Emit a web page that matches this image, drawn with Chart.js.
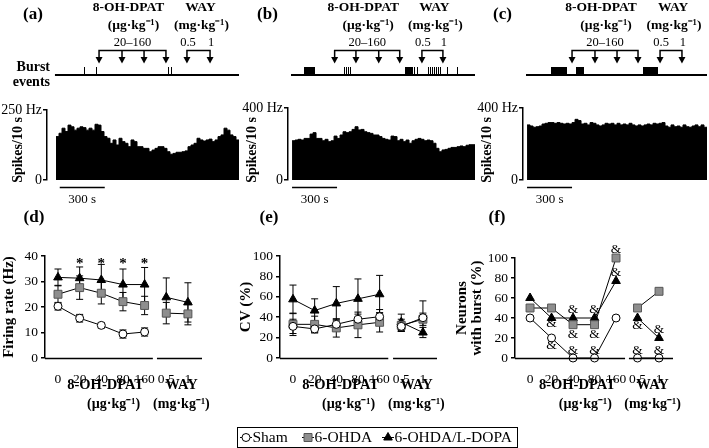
<!DOCTYPE html>
<html>
<head>
<meta charset="utf-8">
<script src="https://cdn.jsdelivr.net/npm/chart.js@4.4.1/dist/chart.umd.min.js"></script>
<style>
  body { margin: 0; background: #fff; }
  #wrap { position: relative; width: 709px; height: 448px; overflow: hidden; background: #fff; }
  canvas { position: absolute; }
</style>
</head>
<body>
<div id="wrap">
  <canvas id="histA" width="240" height="212" style="left:0;top:0"></canvas>
  <canvas id="histB" width="246" height="212" style="left:232px;top:0"></canvas>
  <canvas id="histC" width="243" height="212" style="left:466px;top:0"></canvas>
  <canvas id="rate" width="232" height="215" style="left:0;top:205px"></canvas>
  <canvas id="cv" width="290" height="243" style="left:232px;top:205px"></canvas>
  <canvas id="burst" width="257" height="215" style="left:452px;top:205px"></canvas>
</div>
<script>
const FONT = "'Liberation Serif', 'Times New Roman', serif";
Chart.defaults.font.family = FONT;
Chart.defaults.color = '#000';

// ---- top row: spike counts per bin (bin width in s)
const binSec = 20;
const histA = [155, 167, 185, 173, 196, 190, 178, 185, 190, 187, 178, 185, 178, 199, 196, 173, 155, 149, 131, 143,
  125, 149, 137, 131, 119, 143, 137, 119, 119, 113, 113, 101, 107, 113, 119, 119, 113, 101, 92, 95,
  99, 99, 101, 104, 119, 125, 131, 149, 143, 139, 143, 146, 137, 143, 155, 161, 185, 178, 161, 155, 143];
const histB = [218, 222, 226, 222, 231, 231, 255, 263, 231, 231, 218, 226, 213, 218, 244, 231, 250, 268, 263, 268,
  281, 296, 278, 281, 268, 263, 259, 250, 250, 241, 231, 226, 222, 244, 241, 218, 226, 213, 222, 204,
  218, 226, 231, 226, 218, 222, 218, 204, 176, 157, 167, 170, 176, 181, 181, 185, 189, 185, 193, 196, 196];
const histC = [306, 300, 293, 296, 300, 311, 315, 319, 319, 315, 319, 315, 311, 315, 311, 319, 337, 330, 311, 315,
  306, 319, 315, 306, 300, 306, 315, 311, 315, 306, 315, 306, 311, 306, 315, 306, 300, 306, 300, 306,
  311, 306, 315, 311, 315, 319, 300, 293, 306, 296, 300, 293, 306, 296, 293, 300, 306, 296, 306, 293];
const histMaxA = 250;
const histMaxB = 400;
const histMaxC = 400;

// burst events [start, end] in s
const burstsA = [[187, 187], [267, 267], [747, 747], [767, 767]];
const burstsB = [[80, 147], [347, 347], [360, 360], [373, 373], [387, 387], [751, 800], [813, 813], [831, 831],
  [907, 907], [920, 920], [933, 933], [947, 947], [960, 960], [973, 973], [987, 987], [1033, 1033], [1100, 1100]];
const burstsC = [[160, 260], [327, 373], [773, 867]];

// injection times (s)
const dpatInjA = [287, 440, 587, 733];
const wayInjA = [873, 1027];
const dpatInjB = [284, 426, 578, 718];
const wayInjB = [866, 1006];
const dpatInjC = [300, 453, 600, 740];
const wayInjC = [887, 1033];

// ---- bottom row
const doseLabels = ['0', '20', '40', '80', '160', '0.5', '1'];
const groupNames = ['Sham', '6-OHDA', '6-OHDA/L-DOPA'];

const rateSham = [20.3, 15.6, 12.8, 9.4, 10.2, null, null];
const rateShamErr = [1.5, 1.5, 1.0, 1.6, 1.6, null, null];
const rateOhda = [25.0, 27.6, 25.4, 22.1, 20.6, 17.6, 17.3];
const rateOhdaErr = [3.5, 4.6, 4.2, 3.6, 3.6, 4.2, 4.3];
const rateLdopa = [31.6, 31.3, 30.6, 28.8, 28.8, 23.8, 21.8];
const rateLdopaErr = [3.3, 4.4, 6.1, 6.1, 6.7, 7.6, 7.7];

const cvSham = [31, 28.5, 33, 38, 40.5, 31, 39.5];
const cvShamErr = [7, 4, 5, 5, 7, 5, 16.5];
const cvOhda = [33, 33, 29.5, 32.5, 35, 32, 38];
const cvOhdaErr = [11, 8, 9, 12.5, 9.5, 6, 6];
const cvLdopa = [57.5, 46.5, 53.5, 58, 62.5, 35, 25];
const cvLdopaErr = [14, 11.5, 16.5, 19.5, 18.5, 8, 5];

const burstSham = [40, 20, 0, 0, 40, 0, 0];
const burstOhda = [50, 50, 33.3, 33.3, 100, 50, 66.7];
const burstLdopa = [60, 40, 40, 40, 77, 40, 20];

// significance marks: [dose index, y value]
const starMarks = [[1, 37], [2, 37], [3, 37], [4, 37]];
const ampMarks = [[1, 35], [1, 13], [2, 49], [2, 24], [2, 8], [3, 49], [3, 24], [3, 8],
  [4, 109], [4, 86], [5, 33], [5, 8], [6, 29], [6, 8]];

const groupStyles = [
  { pointStyle: 'circle', pointRadius: 4, pointBackgroundColor: '#fff', pointBorderColor: '#000' },
  { pointStyle: 'rect', pointRadius: 5.6, pointBackgroundColor: '#8e8e8e', pointBorderColor: '#555' },
  { pointStyle: 'triangle', pointRadius: 5, pointBackgroundColor: '#000', pointBorderColor: '#000' }
];

function txt(ctx, s, x, y, size, bold, align) {
  ctx.font = (bold ? 'bold ' : '') + size + 'px ' + FONT;
  ctx.textAlign = align || 'center';
  ctx.textBaseline = 'middle';
  ctx.fillStyle = '#000';
  ctx.fillText(s, x, y);
}

function stepPoints(vals) {
  const pts = vals.map((v, i) => ({ x: i * binSec, y: v }));
  pts.push({ x: vals.length * binSec, y: vals[vals.length - 1] });
  return pts;
}

// header (drug bars, burst events) and time scale bar
function headerPlugin(p) {
  return {
    id: 'header',
    afterDraw(chart) {
      const ctx = chart.ctx, xs = chart.scales.x, area = chart.chartArea;
      ctx.save();
      txt(ctx, p.tag, p.tagX, 15, 17, true);
      const dp = p.dpat.map(t => xs.getPixelForValue(t));
      const wp = p.way.map(t => xs.getPixelForValue(t));
      const dMid = (dp[0] + dp[dp.length - 1]) / 2;
      const wMid = (wp[0] + wp[1]) / 2;
      txt(ctx, '8-OH-DPAT', dMid - 4, 8, 13.5, true);
      txt(ctx, '(µg·kg⁻¹)', dMid + 1, 26, 13.5, true);
      txt(ctx, '20–160', dMid, 43, 12.5, false);
      txt(ctx, 'WAY', wMid + 2, 8, 13.5, true);
      txt(ctx, '(mg·kg⁻¹)', wMid + 3, 26, 13.5, true);
      txt(ctx, doseLabels[5], wp[0] + 1, 43, 12.5, false);
      txt(ctx, doseLabels[6], wp[1] + 1, 43, 12.5, false);

      ctx.strokeStyle = '#000';
      ctx.fillStyle = '#000';
      ctx.lineWidth = 1.5;
      [dp, wp].forEach(g => {
        const a = g[0], b = g[g.length - 1];
        ctx.beginPath();
        ctx.moveTo(a, 58); ctx.lineTo(a, 50.5); ctx.lineTo(b, 50.5); ctx.lineTo(b, 58);
        g.slice(1, -1).forEach(x => { ctx.moveTo(x, 50.5); ctx.lineTo(x, 58); });
        ctx.stroke();
        g.forEach(x => {
          ctx.beginPath();
          ctx.moveTo(x - 3.5, 57); ctx.lineTo(x + 3.5, 57); ctx.lineTo(x, 63.5);
          ctx.closePath(); ctx.fill();
        });
      });

      // burst events
      ctx.lineWidth = 2;
      ctx.beginPath();
      ctx.moveTo(xs.getPixelForValue(-7), 75);
      ctx.lineTo(area.right, 75);
      ctx.stroke();
      p.bursts.forEach(([s, e]) => {
        const x0 = Math.round(xs.getPixelForValue(s)), x1 = Math.round(xs.getPixelForValue(e));
        ctx.fillRect(x0, 67, Math.max(1, x1 - x0 + 1), 8);
      });
      if (p.burstLabel) {
        txt(ctx, 'Burst', 50, 67, 14, true, 'right');
        txt(ctx, 'events', 50, 82, 14, true, 'right');
      }

      // y title
      ctx.save();
      ctx.translate(p.titleX, 150);
      ctx.rotate(-Math.PI / 2);
      txt(ctx, 'Spikes/10 s', 0, 0, 14, true);
      ctx.restore();

      // 300 s scale bar
      const s0 = xs.getPixelForValue(p.barStart), s1 = xs.getPixelForValue(p.barStart + 300);
      ctx.lineWidth = 1.5;
      ctx.beginPath();
      ctx.moveTo(s0, 187.5); ctx.lineTo(s1, 187.5);
      ctx.stroke();
      txt(ctx, '300 s', (s0 + s1) / 2, 200, 13, false);
      ctx.restore();
    }
  };
}

function histChart(id, vals, max, p) {
  return new Chart(document.getElementById(id), {
    type: 'line',
    data: {
      datasets: [{
        data: stepPoints(vals),
        stepped: true,
        fill: 'origin',
        backgroundColor: '#000',
        borderColor: '#000',
        borderWidth: 1,
        pointRadius: 0
      }]
    },
    options: {
      responsive: false,
      animation: false,
      layout: { padding: { top: p.top, right: p.right, bottom: 32, left: 0 } },
      plugins: { legend: { display: false }, tooltip: { enabled: false } },
      scales: {
        x: { type: 'linear', display: false, min: p.xMin, max: p.xMax },
        y: {
          min: 0,
          max: max,
          afterBuildTicks: s => { s.ticks = [{ value: 0 }, { value: max }]; },
          afterFit: s => { s.width = p.axisX; },
          ticks: { callback: v => (v === max ? max + ' Hz' : '0'), font: { size: 14 }, padding: 1 },
          grid: { drawOnChartArea: false, tickLength: 4, color: '#000', lineWidth: 1.5 },
          border: { color: '#000', width: 1.5 }
        }
      }
    },
    plugins: [headerPlugin(p)]
  });
}

histChart('histA', histA, histMaxA, {
  tag: '(a)', tagX: 33, axisX: 47, xMin: -60, xMax: 1220, top: 110, right: 1, titleX: 18,
  dpat: dpatInjA, way: wayInjA, bursts: burstsA, burstLabel: true, barStart: 25
});
histChart('histB', histB, histMaxB, {
  tag: '(b)', tagX: 35.5, axisX: 56, xMin: -27, xMax: 1220, top: 108, right: 3, titleX: 20,
  dpat: dpatInjB, way: wayInjB, bursts: burstsB, burstLabel: false, barStart: 0
});
histChart('histC', histC, histMaxC, {
  tag: '(c)', tagX: 36.5, axisX: 57, xMin: -27, xMax: 1200, top: 108, right: 2, titleX: 21,
  dpat: dpatInjC, way: wayInjC, bursts: burstsC, burstLabel: false, barStart: 0
});

// ---- bottom panels
function drawMarker(ctx, k, x, y) {
  const st = groupStyles[k];
  ctx.fillStyle = st.pointBackgroundColor;
  ctx.strokeStyle = st.pointBorderColor;
  ctx.lineWidth = 1;
  ctx.beginPath();
  if (k === 0) ctx.arc(x, y, 4, 0, Math.PI * 2);
  else if (k === 1) ctx.rect(x - 4, y - 4, 8, 8);
  else { ctx.moveTo(x, y - 5); ctx.lineTo(x + 4.3, y + 2.5); ctx.lineTo(x - 4.3, y + 2.5); ctx.closePath(); }
  ctx.fill();
  ctx.stroke();
}

function panelPlugin(p) {
  return {
    id: 'panel',
    beforeDatasetsDraw(chart) {
      // error bars (SEM) under the markers
      const ctx = chart.ctx, ys = chart.scales.y;
      ctx.save();
      ctx.strokeStyle = '#000';
      ctx.lineWidth = 1;
      chart.data.datasets.forEach((ds, i) => {
        if (!ds.errs) return;
        const meta = chart.getDatasetMeta(i);
        meta.data.forEach((pt, j) => {
          const v = ds.data[j].y, e = ds.errs[j];
          if (v == null || e == null) return;
          const yt = ys.getPixelForValue(v + e), yb = ys.getPixelForValue(v - e);
          ctx.beginPath();
          ctx.moveTo(pt.x, yt); ctx.lineTo(pt.x, yb);
          ctx.moveTo(pt.x - 3.5, yt); ctx.lineTo(pt.x + 3.5, yt);
          ctx.moveTo(pt.x - 3.5, yb); ctx.lineTo(pt.x + 3.5, yb);
          ctx.stroke();
        });
      });
      ctx.restore();
    },
    afterDraw(chart) {
      const ctx = chart.ctx, xs = chart.scales.x, ys = chart.scales.y, area = chart.chartArea;
      ctx.save();
      // broken x axis
      ctx.strokeStyle = '#000';
      ctx.lineWidth = 1.5;
      const yb = area.bottom + 0.5;
      ctx.beginPath();
      ctx.moveTo(area.left, yb); ctx.lineTo(xs.getPixelForValue(p.breakFrom), yb);
      ctx.moveTo(xs.getPixelForValue(p.breakTo), yb); ctx.lineTo(area.right, yb);
      ctx.stroke();

      txt(ctx, p.tag, p.tagX, 13, 17, true);
      txt(ctx, '8-OH-DPAT', xs.getPixelForValue(2.2), 180, 14.5, true);
      txt(ctx, 'WAY', xs.getPixelForValue(5.7), 180, 14.5, true);
      txt(ctx, '(µg·kg⁻¹)', xs.getPixelForValue(2.2) + 8, 199, 14, true);
      txt(ctx, '(mg·kg⁻¹)', xs.getPixelForValue(5.7), 199, 14, true);

      (p.marks || []).forEach(([i, v]) => {
        txt(ctx, p.markText, xs.getPixelForValue(i), ys.getPixelForValue(v), p.markSize, p.markText === '*');
      });

      if (p.legend) {
        ctx.strokeStyle = '#000';
        ctx.lineWidth = 1;
        ctx.strokeRect(5.5, 222.5, 280, 20);
        const mx = [14, 76, 156];
        groupNames.forEach((name, k) => {
          ctx.strokeStyle = '#000';
          ctx.beginPath();
          ctx.moveTo(mx[k] - 6, 232.5); ctx.lineTo(mx[k] + 6, 232.5);
          ctx.stroke();
          drawMarker(ctx, k, mx[k], 232.5);
          txt(ctx, name, mx[k] + 6.5, 233, 15.5, false, 'left');
        });
      }
      ctx.restore();
    }
  };
}

function groupDataset(k, vals, errs) {
  return Object.assign({
    label: groupNames[k],
    data: vals.map((v, i) => ({ x: i, y: v })),
    errs: errs,
    borderColor: '#000',
    borderWidth: 1,
    pointBorderWidth: 1,
    clip: false,
    // no line between the 8-OH-DPAT and WAY parts
    segment: { borderColor: c => (c.p0DataIndex === 4 ? 'rgba(0,0,0,0)' : '#000') }
  }, groupStyles[k]);
}

function bottomChart(id, series, p) {
  return new Chart(document.getElementById(id), {
    type: 'line',
    data: { datasets: series.map((s, k) => groupDataset(k, s[0], s[1])) },
    options: {
      responsive: false,
      animation: false,
      layout: { padding: { top: p.top, right: p.right, bottom: 0, left: 0 } },
      plugins: { legend: { display: false }, tooltip: { enabled: false } },
      scales: {
        x: {
          type: 'linear', min: p.xMin, max: 6.65,
          afterBuildTicks: s => { s.ticks = doseLabels.map((_, i) => ({ value: i })); },
          afterFit: s => { s.height = p.xh; },
          grid: { display: false },
          border: { display: false },
          ticks: { callback: v => doseLabels[v], font: { size: 13.5 }, padding: 5, maxRotation: 0, autoSkip: false }
        },
        y: {
          min: 0, max: p.yMax,
          ticks: { stepSize: p.step, font: { size: 13.5 }, padding: 3 },
          afterFit: s => { s.width = p.yw; },
          grid: { drawOnChartArea: false, tickLength: 4, color: '#000', lineWidth: 1.5 },
          border: { color: '#000', width: 1.5 },
          title: {
            display: true, text: p.title,
            font: { size: 15, weight: 'bold', lineHeight: 1 },
            padding: { top: p.titlePad, bottom: 0 }
          }
        }
      }
    },
    plugins: [panelPlugin(p)]
  });
}

bottomChart('rate', [[rateSham, rateShamErr], [rateOhda, rateOhdaErr], [rateLdopa, rateLdopaErr]], {
  tag: '(d)', tagX: 34, top: 51, right: 30, xh: 62, yw: 45, xMin: -0.6, yMax: 40, step: 10,
  title: 'Firing rate (Hz)', titlePad: 1.5, breakFrom: 4.38, breakTo: 4.57,
  marks: starMarks, markText: '*', markSize: 15
});
bottomChart('cv', [[cvSham, cvShamErr], [cvOhda, cvOhdaErr], [cvLdopa, cvLdopaErr]], {
  tag: '(e)', tagX: 37, top: 51, right: 85, xh: 90, yw: 48, xMin: -0.6, yMax: 100, step: 20,
  title: 'CV (%)', titlePad: 6.5, breakFrom: 4.4, breakTo: 4.62, legend: true
});
bottomChart('burst', [[burstSham, null], [burstOhda, null], [burstLdopa, null]], {
  tag: '(f)', tagX: 45, top: 53, right: 36, xh: 62, yw: 63, xMin: -0.7, yMax: 100, step: 20,
  title: ['Neurons', 'with burst (%)'], titlePad: 2.5, breakFrom: 4.42, breakTo: 4.6,
  marks: ampMarks, markText: '&', markSize: 13.5
});
</script>
</body>
</html>
